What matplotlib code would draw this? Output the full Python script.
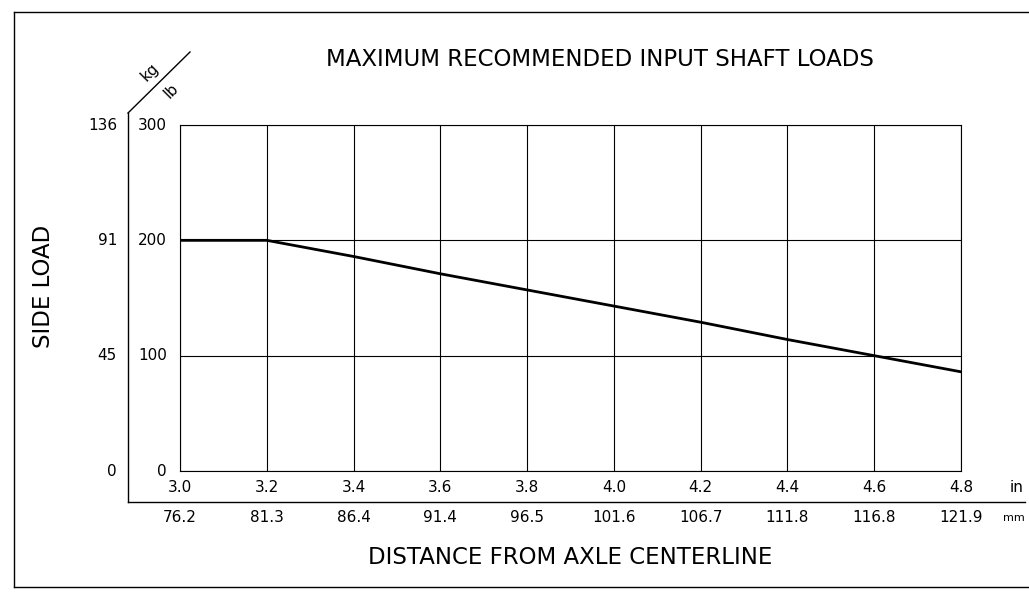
import matplotlib
matplotlib.use("Agg")
import matplotlib.pyplot as plt
from matplotlib.lines import Line2D

# datos
dist_in = [3.0, 3.2, 3.4, 3.6, 3.8, 4.0, 4.2, 4.4, 4.6, 4.8]
dist_mm = ["76.2", "81.3", "86.4", "91.4", "96.5", "101.6", "106.7", "111.8", "116.8", "121.9"]
load_lb = [200, 200, 186, 171, 157, 143, 129, 114, 100, 86]
lb_ticks = [0, 100, 200, 300]
kg_ticks = ["0", "45", "91", "136"]

W, H = 1029, 593
plt.rcParams['font.family'] = ['DejaVu Sans']
FS = 11      # etiquetas de ticks
FT = 16.5    # titulos

fig = plt.figure(figsize=(W / 100, H / 100), dpi=100)


def px(x, y):
    # pixel (desde arriba) a coordenadas de figura
    return x / W, 1 - y / H


# marco exterior y lineas auxiliares
for (x0, y0), (x1, y1) in [((14, 12), (1029, 12)), ((14, 12), (14, 587)), ((14, 587), (1029, 587)),
                           ((128, 113), (128, 502)), ((128, 502), (1025, 502)), ((128, 113), (190, 52))]:
    a, b = px(x0, y0)
    c, d = px(x1, y1)
    fig.add_artist(Line2D([a, c], [b, d], color='black', lw=1.0, transform=fig.transFigure))

l, t = px(180, 125)
r, b = px(961, 471)
ax = fig.add_axes([l, b, r - l, t - b])
ax.plot(dist_in, load_lb, color='black', lw=2.0)
ax.set_xlim(3.0, 4.8)
ax.set_ylim(0, 300)
ax.set_xticks(dist_in)
ax.set_yticks(lb_ticks)
ax.grid(True, color='black', lw=0.8)
ax.tick_params(length=0, labelleft=False, labelbottom=False)
for s in ax.spines.values():
    s.set_linewidth(0.8)

# etiquetas de ticks (pulgadas/mm abajo, lb/kg a la izquierda)
for xv, mm in zip(dist_in, dist_mm):
    ax.annotate(f"{xv:.1f}", (xv, 0), xytext=(0, -17), textcoords='offset pixels',
                ha='center', va='center', fontsize=FS)
    ax.annotate(mm, (xv, 0), xytext=(0, -47), textcoords='offset pixels',
                ha='center', va='center', fontsize=FS)
for yv, kg in zip(lb_ticks, kg_ticks):
    ax.annotate(str(yv), (3.0, yv), xytext=(-13, 0), textcoords='offset pixels',
                ha='right', va='center', fontsize=FS)
    ax.annotate(kg, (3.0, yv), xytext=(-63, 0), textcoords='offset pixels',
                ha='right', va='center', fontsize=FS)

fig.text(*px(1017, 488), "in", ha='center', va='center', fontsize=FS)
fig.text(*px(1014, 518), "mm", ha='center', va='center', fontsize=8)
fig.text(*px(150, 72), "kg", ha='center', va='center', fontsize=FS, rotation=45)
fig.text(*px(171, 91), "lb", ha='center', va='center', fontsize=FS, rotation=45)

fig.text(*px(600, 60), "MAXIMUM RECOMMENDED INPUT SHAFT LOADS", ha='center', va='center',
         fontsize=FT)
fig.text(*px(570, 558), "DISTANCE FROM AXLE CENTERLINE", ha='center', va='center',
         fontsize=FT)
fig.text(*px(43, 286), "SIDE LOAD", ha='center', va='center', rotation=90,
         fontsize=FT)

fig.savefig("out.png", dpi=100)
